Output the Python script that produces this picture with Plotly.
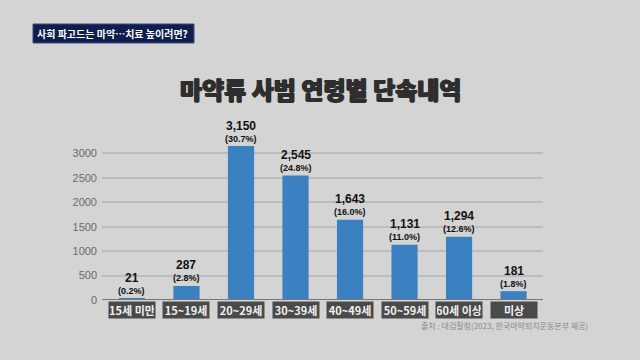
import plotly.graph_objects as go

categories = ["15세 미만", "15~19세", "20~29세", "30~39세", "40~49세", "50~59세", "60세 이상", "미상"]
values = [21, 287, 3150, 2545, 1643, 1131, 1294, 181]
shares = ["0.2%", "2.8%", "30.7%", "24.8%", "16.0%", "11.0%", "12.6%", "1.8%"]
y_ticks = [0, 500, 1000, 1500, 2000, 2500, 3000]

BG = "#d4d4d4"
BAR = "#3b80c0"
NUM_FONT = "Liberation Sans, Arial"

fig = go.Figure()
fig.add_trace(go.Bar(
    x=list(range(len(categories))), y=values,
    marker=dict(color=BAR, line=dict(width=0)),
    width=0.48, hoverinfo="skip",
))

annotations = []
for i, (cat, v, s) in enumerate(zip(categories, values, shares)):
    annotations.append(dict(
        x=i, y=v, xref="x", yref="y", yanchor="middle", yshift=7.5,
        text=f"<b>({s})</b>", showarrow=False, borderpad=0,
        font=dict(family=NUM_FONT, size=9, color="#111111"),
    ))
    annotations.append(dict(
        x=i, y=v, xref="x", yref="y", yanchor="middle", yshift=20.5,
        text=f"<b>{v:,}</b>", showarrow=False, borderpad=0,
        font=dict(family=NUM_FONT, size=12, color="#111111"),
    ))
    annotations.append(dict(
        x=i, y=0, xref="x", yref="y", yanchor="top", yshift=-1,
        text=f"<b>{cat}</b>", showarrow=False,
        width=44, height=14, bgcolor="#4a4a4a",
        font=dict(family="Noto Sans CJK KR, Liberation Sans", size=11, color="#f0f0f0"),
    ))

fig.update_layout(
    width=640, height=360,
    margin=dict(l=102, r=97, t=140, b=60),
    paper_bgcolor=BG, plot_bgcolor=BG,
    showlegend=False,
    xaxis=dict(range=[-0.55, 7.54], showgrid=False, showticklabels=False,
               zeroline=False, showline=False, fixedrange=True),
    yaxis=dict(range=[0, 3273], tickvals=y_ticks, ticktext=[str(t) for t in y_ticks],
               showgrid=True, gridcolor="#bcbcbc", gridwidth=1.5,
               zeroline=False, showline=False, ticks="",
               ticklabelstandoff=4, fixedrange=True,
               tickfont=dict(family="Liberation Sans, Arial", size=11, color="#6a6a6a")),
    bargap=0.5,
)

# plot area in pixels: x 102..543, y 140..300
def px_x(px):
    return (px - 102) / (543 - 102)

def px_y(py):
    return (300 - py) / (300 - 140)

annotations.append(dict(
    x=px_x(320), y=px_y(89), xref="paper", yref="paper",
    text="마약류 사범 연령별 단속내역", showarrow=False,
    xanchor="center", yanchor="middle",
    font=dict(family="Noto Sans CJK KR", size=24, color="#2e2e2e", weight=900,
              shadow="0.7px 0 0 #2e2e2e, -0.7px 0 0 #2e2e2e, 0 0.6px 0 #2e2e2e, 0 -0.4px 0 #2e2e2e"),
))
annotations.append(dict(
    x=px_x(112), y=px_y(33.5), xref="paper", yref="paper",
    text="<b>사회 파고드는 마약…치료 높이려면?</b>", showarrow=False,
    xanchor="center", yanchor="middle",
    font=dict(family="Noto Sans CJK KR", size=10, color="#ffffff"),
))
annotations.append(dict(
    x=px_x(590), y=px_y(325), xref="paper", yref="paper",
    text="출처 : 대검찰청(2023, 한국마약퇴치운동본부 제공)", showarrow=False,
    xanchor="right", yanchor="middle",
    font=dict(family="Noto Sans CJK KR", size=8, color="#8a8a8a"),
))

shapes = [
    dict(type="rect", xref="paper", yref="paper",
         x0=px_x(33), x1=px_x(194), y0=px_y(43), y1=px_y(24),
         fillcolor="#0e1e4e", line=dict(color="#3a4a7a", width=1), layer="below"),
    dict(type="line", xref="paper", yref="y", x0=0, x1=1, y0=0, y1=0,
         line=dict(color="#777777", width=2)),
]

fig.update_layout(annotations=annotations, shapes=shapes)
fig.write_html("out.html", config={"displayModeBar": False},
               post_script="document.body.style.margin='0';document.body.style.background='#d4d4d4';")
